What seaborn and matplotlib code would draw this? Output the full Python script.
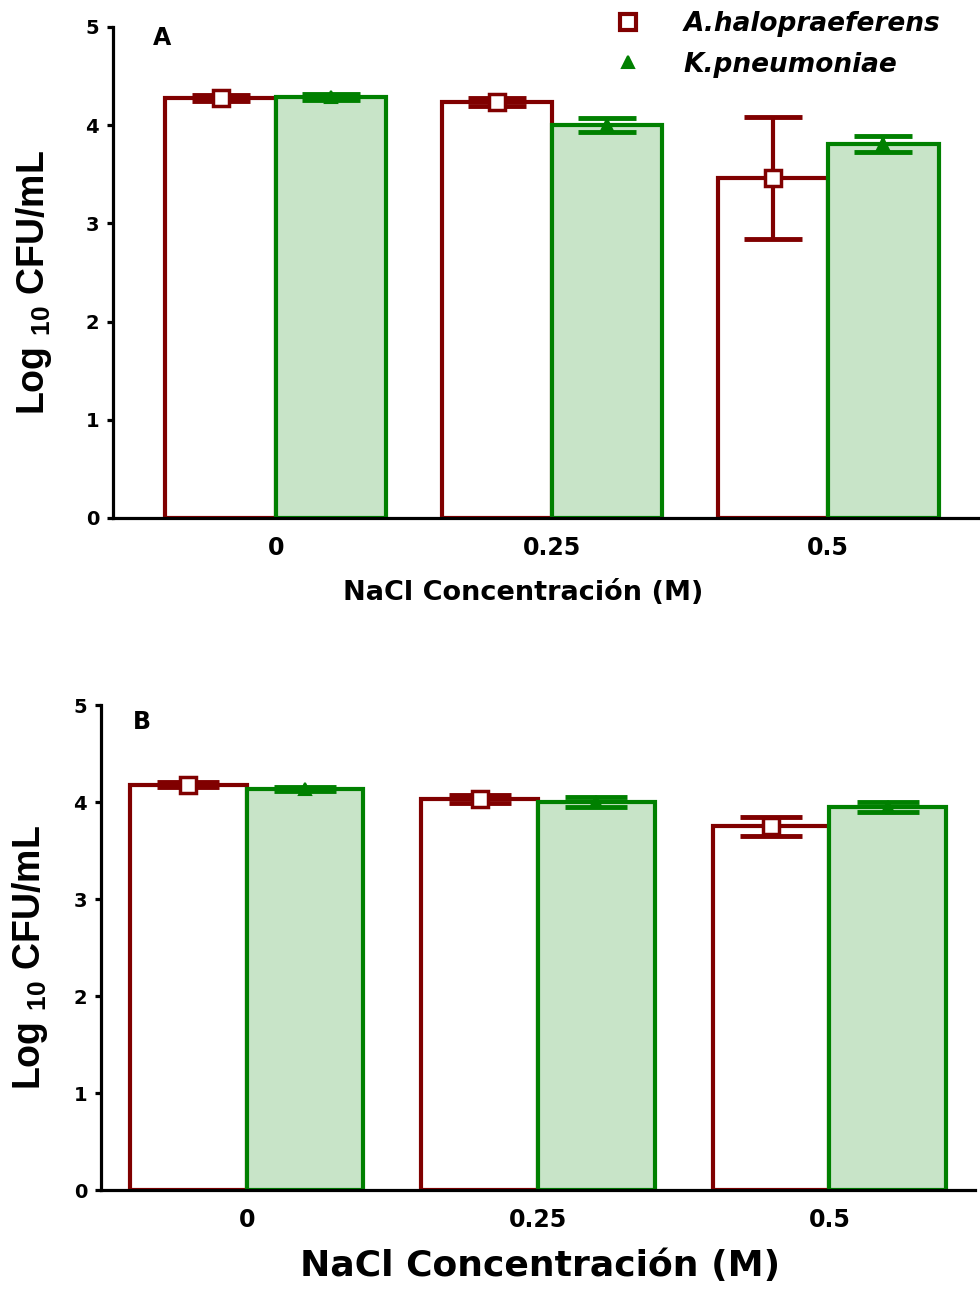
import numpy as np
import pandas as pd
import matplotlib
matplotlib.use("Agg")
import matplotlib.pyplot as plt
from matplotlib.lines import Line2D
import seaborn as sns

# ---------------- data ----------------
concentrations = ["0", "0.25", "0.5"]
species = ["A.halopraeferens", "K.pneumoniae"]
yticks = [0, 1, 2, 3, 4, 5]

# Panel A
halo_mean_A = [4.28, 4.24, 3.46]
halo_err_A = [0.03, 0.04, 0.62]
kpn_mean_A = [4.29, 4.00, 3.81]
kpn_err_A = [0.03, 0.07, 0.08]

# Panel B
halo_mean_B = [4.18, 4.03, 3.75]
halo_err_B = [0.03, 0.04, 0.10]
kpn_mean_B = [4.13, 4.00, 3.95]
kpn_err_B = [0.02, 0.05, 0.05]

xlabel_text = "NaCl Concentración (M)"
ylabel_text = "Log ${}_{10}$ CFU/mL"

RED = "#800000"
GREEN = "#008000"
GREEN_FILL = "#c8e4c8"

sns.set_style("white")
plt.rcParams["font.family"] = ["DejaVu Sans"]
plt.rcParams["font.weight"] = "bold"
plt.rcParams["axes.edgecolor"] = "black"
plt.rcParams["text.color"] = "black"
plt.rcParams["axes.labelcolor"] = "black"
plt.rcParams["xtick.color"] = "black"
plt.rcParams["ytick.color"] = "black"
plt.rcParams["mathtext.fontset"] = "custom"
plt.rcParams["mathtext.rm"] = "Liberation Sans:bold"
plt.rcParams["mathtext.bf"] = "Liberation Sans:bold"
plt.rcParams["mathtext.it"] = "Liberation Sans:bold:italic"
plt.rcParams["mathtext.default"] = "rm"

fig = plt.figure(figsize=(9.8, 12.91), dpi=100)
axA = fig.add_axes([0.1153, 0.5988, 0.8847, 0.3803])
axB = fig.add_axes([0.1031, 0.0782, 0.8918, 0.3757])


def draw_panel(ax, red_mean, red_err, green_mean, green_err, xlim, letter,
               letter_xy, xlabel_size, xlabel_xy, ylabel_x, capsize):
    df = pd.DataFrame({
        "conc": concentrations * 2,
        "species": [species[0]] * 3 + [species[1]] * 3,
        "mean": red_mean + green_mean,
        "err": red_err + green_err,
    })
    sns.barplot(data=df, x="conc", y="mean", hue="species",
                order=concentrations, hue_order=species,
                palette=[RED, GREEN], errorbar=None, width=0.8,
                saturation=1, legend=False, ax=ax, zorder=2)
    styles = [
        dict(face="white", edge=RED, marker="s", ms=11, mfc="white", mew=2.5),
        dict(face=GREEN_FILL, edge=GREEN, marker="^", ms=8, mfc=GREEN, mew=1.5),
    ]
    for cont, sp, st in zip(ax.containers, species, styles):
        for p in cont:
            p.set_facecolor(st["face"])
            p.set_edgecolor(st["edge"])
            p.set_linewidth(3)
        sub = df[df["species"] == sp].set_index("conc").loc[concentrations]
        xs = [p.get_x() + p.get_width() / 2 for p in cont]
        ax.errorbar(xs, sub["mean"].values, yerr=sub["err"].values, fmt="none",
                    ecolor=st["edge"], elinewidth=3, capsize=capsize,
                    capthick=3.5, zorder=3)
        ax.plot(xs, sub["mean"].values, ls="none", marker=st["marker"],
                ms=st["ms"], mfc=st["mfc"], mec=st["edge"], mew=st["mew"],
                zorder=4)

    ax.set_ylim(0, 5)
    ax.set_yticks(yticks)
    ax.set_xlim(*xlim)
    for s in ["top", "right"]:
        ax.spines[s].set_visible(False)
    for s in ["left", "bottom"]:
        ax.spines[s].set_linewidth(2.3)
        ax.spines[s].set_color("black")
    ax.tick_params(axis="y", direction="out", length=4, width=2.3, pad=6,
                   labelsize=14, left=True)
    ax.tick_params(axis="x", length=0, pad=13, labelsize=17)
    for lab in ax.get_xticklabels() + ax.get_yticklabels():
        lab.set_fontweight("bold")

    ax.set_xlabel(xlabel_text, fontsize=xlabel_size, fontweight="bold",
                  va="top")
    ax.xaxis.set_label_coords(*xlabel_xy)
    ax.set_ylabel(ylabel_text, fontsize=27, fontweight="bold",
                  fontfamily="Liberation Sans")
    ax.yaxis.set_label_coords(ylabel_x, 0.48)
    ax.text(letter_xy[0], letter_xy[1], letter, transform=ax.transAxes,
            fontsize=17, fontweight="bold", ha="center", va="center")


draw_panel(axA, halo_mean_A, halo_err_A, kpn_mean_A, kpn_err_A,
           (-0.59, 2.55), "A", (0.0565, 0.978), 19.5, (0.473, -0.126),
           -0.068, 21)
draw_panel(axB, halo_mean_B, halo_err_B, kpn_mean_B, kpn_err_B,
           (-0.50, 2.50), "B", (0.047, 0.965), 26, (0.502, -0.122),
           -0.058, 22)

handles = [
    Line2D([], [], ls="none", marker="s", ms=12, mfc="white", mec=RED, mew=3),
    Line2D([], [], ls="none", marker="^", ms=8, mfc=GREEN, mec=GREEN, mew=1.5),
]
fig.legend(handles, species, loc="upper left",
           bbox_to_anchor=(614.8 / 980, 1 - 11 / 1291), frameon=False,
           borderpad=0, borderaxespad=0, handlelength=1.0,
           handletextpad=1.6, labelspacing=0.55,
           prop=dict(family="DejaVu Sans", weight="bold", style="italic",
                     size=19))

fig.savefig("out.png", dpi=100)
